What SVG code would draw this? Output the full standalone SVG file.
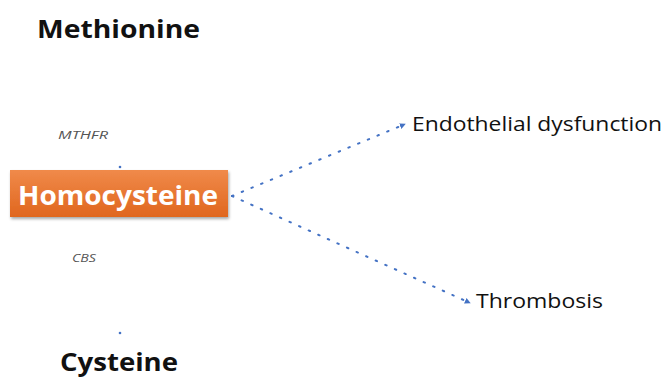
<svg xmlns="http://www.w3.org/2000/svg" width="664" height="378" viewBox="0 0 664 378">
<defs>
<linearGradient id="og" x1="0" y1="0" x2="0" y2="1">
<stop offset="0" stop-color="#f08a4a"/>
<stop offset="1" stop-color="#e0661e"/>
</linearGradient>
<filter id="sh" x="-10%" y="-20%" width="120%" height="160%">
<feDropShadow dx="1" dy="2" stdDeviation="1.5" flood-color="#000" flood-opacity="0.35"/>
</filter>
<marker id="ah" markerWidth="3" markerHeight="3" refX="1.5" refY="1.5" orient="auto">
<path d="M0,0 L3,1.5 L0,3 z" fill="#4472c4"/>
</marker>
</defs>
<style>
.big{font-family:"Open Sans","Liberation Sans",sans-serif;font-weight:bold;font-size:25px;fill:#111}
.lbl{font-family:"Open Sans","Liberation Sans",sans-serif;font-size:20px;fill:#111}
.enz{font-family:"Open Sans","Liberation Sans",sans-serif;font-style:italic;font-size:10px;fill:#555}
.con{stroke:#4472c4;stroke-width:2;stroke-dasharray:1.5 9;stroke-linecap:round;fill:none}
</style>
<rect width="664" height="378" fill="#fff"/>
<g id="connectors">
<path class="con" d="M232,196 L403,125" marker-end="url(#ah)"/>
<path class="con" d="M232,196 L468,302" marker-end="url(#ah)"/>
<circle cx="120" cy="167" r="1.3" fill="#4472c4"/>
<circle cx="120" cy="333" r="1.3" fill="#4472c4"/>
</g>
<g id="methionine"><text class="big" x="37" y="38" textLength="163" lengthAdjust="spacingAndGlyphs">Methionine</text></g>
<g id="mthfr"><text class="enz" x="58" y="139" textLength="50" lengthAdjust="spacingAndGlyphs">MTHFR</text></g>
<g id="homocysteine">
<rect x="10" y="170" width="218" height="47" fill="url(#og)" filter="url(#sh)"/>
<text x="18" y="205" font-family="Open Sans, Liberation Sans, sans-serif" font-weight="bold" font-size="27" fill="#fff" textLength="200" lengthAdjust="spacingAndGlyphs">Homocysteine</text>
</g>
<g id="cbs"><text class="enz" x="72" y="262" textLength="24" lengthAdjust="spacingAndGlyphs">CBS</text></g>
<g id="cysteine"><text class="big" x="60" y="371" textLength="118" lengthAdjust="spacingAndGlyphs">Cysteine</text></g>
<g id="endothelial"><text class="lbl" x="412" y="131" textLength="250" lengthAdjust="spacingAndGlyphs">Endothelial dysfunction</text></g>
<g id="thrombosis"><text class="lbl" x="476" y="308" textLength="127" lengthAdjust="spacingAndGlyphs">Thrombosis</text></g>
</svg>
